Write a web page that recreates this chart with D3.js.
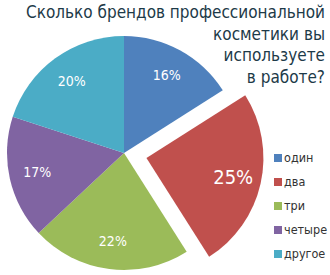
<!DOCTYPE html>
<html>
<head>
<meta charset="utf-8">
<script src="https://cdn.jsdelivr.net/npm/d3@7"></script>
<style>
  html, body { margin: 0; padding: 0; background: #fff; }
</style>
</head>
<body>
<div id="chart"></div>
<script>
const categories = ['один', 'два', 'три', 'четыре', 'другое'];
const values = [16, 25, 22, 17, 20];
const colors = ['#4F81BD', '#C0504D', '#9BBB59', '#8064A2', '#4BACC6'];
const titleLines = ['Сколько брендов профессиональной', 'косметики вы', 'используете', 'в работе?'];
const explodedIndex = 1;

const width = 330;
const height = 275;
const cx = 124, cy = 153;
const radius = 117;
const explode = 23;
const font = 'DejaVu Sans Condensed, DejaVu Sans, sans-serif';

const svg = d3.select('#chart')
    .append('svg')
    .attr('width', width)
    .attr('height', height);

// заголовок
svg.append('text')
    .attr('font-family', font)
    .attr('font-size', '17px')
    .attr('fill', '#1D3A48')
    .attr('text-anchor', 'end')
    .selectAll('tspan')
    .data(titleLines)
    .join('tspan')
    .attr('x', 325)
    .attr('y', (d, i) => 18 + i * 21.5)
    .text(d => d);

const pie = d3.pie().sort(null).value(d => d);
const arcs = pie(values);
const arc = d3.arc().innerRadius(0).outerRadius(radius);
const labelArc = d3.arc().innerRadius(radius * 0.76).outerRadius(radius * 0.76);

const g = svg.append('g')
    .attr('transform', `translate(${cx}, ${cy})`);

const slices = g.selectAll('g.slice')
    .data(arcs)
    .join('g')
    .attr('class', 'slice')
    .attr('transform', (d, i) => {
        if (i !== explodedIndex) return null;
        const a = (d.startAngle + d.endAngle) / 2;
        return `translate(${Math.sin(a) * explode}, ${-Math.cos(a) * explode})`;
    });

slices.append('path')
    .attr('d', arc)
    .attr('fill', (d, i) => colors[i]);

slices.append('text')
    .attr('transform', d => `translate(${labelArc.centroid(d)})`)
    .attr('text-anchor', 'middle')
    .attr('dy', '0.35em')
    .attr('font-family', font)
    .attr('font-size', (d, i) => i === explodedIndex ? '20px' : '14px')
    .attr('fill', '#fff')
    .text(d => d.data + '%');

// легенда
const legend = svg.append('g')
    .attr('transform', 'translate(274, 154)');

const item = legend.selectAll('g')
    .data(categories)
    .join('g')
    .attr('transform', (d, i) => `translate(0, ${i * 24})`);

item.append('rect')
    .attr('width', 8)
    .attr('height', 8)
    .attr('fill', (d, i) => colors[i]);

item.append('text')
    .attr('x', 10)
    .attr('y', 8)
    .attr('font-family', font)
    .attr('font-size', '12.5px')
    .attr('fill', '#333')
    .text(d => d);
</script>
</body>
</html>
